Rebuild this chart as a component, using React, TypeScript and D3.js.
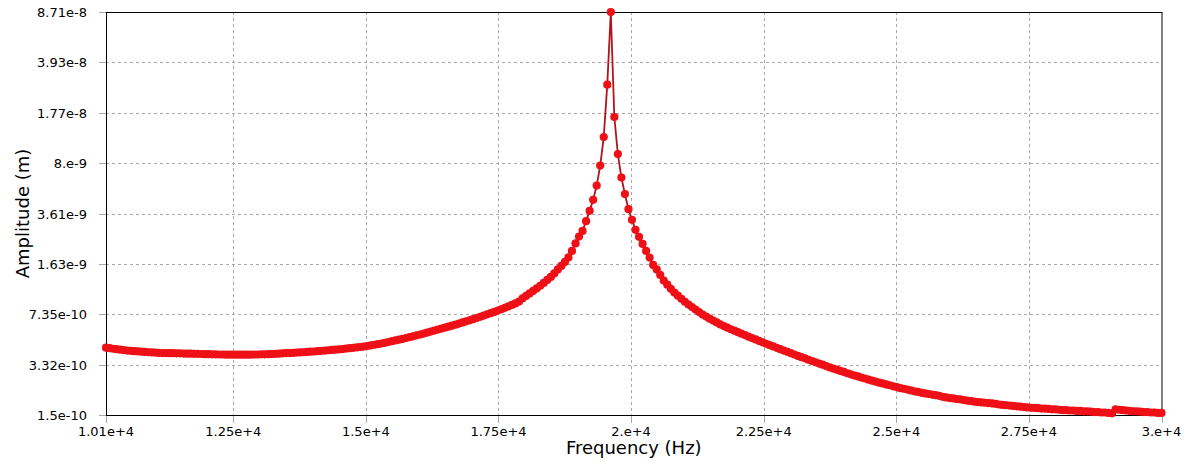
import React from "react";
import * as d3 from "d3";

// Frequency grid (Hz): 300 evenly spaced samples
const freqStart = 10100;
const freqEnd = 30000;
const amplitudeUnit = 1e-10; // values below are in units of 1e-10 m

const amplitudeE10: number[] = [
  4.34, 4.31, 4.27, 4.24, 4.21, 4.18, 4.15, 4.13, 4.11, 4.10,
  4.08, 4.06, 4.04, 4.03, 4.02, 4.00, 3.99, 3.99, 3.98, 3.98,
  3.97, 3.97, 3.96, 3.95, 3.95, 3.94, 3.94, 3.93, 3.92, 3.92,
  3.91, 3.91, 3.90, 3.90, 3.89, 3.89, 3.89, 3.89, 3.89, 3.89,
  3.89, 3.89, 3.90, 3.90, 3.91, 3.91, 3.92, 3.93, 3.94, 3.95,
  3.97, 3.98, 3.99, 4.00, 4.02, 4.03, 4.04, 4.06, 4.08, 4.09,
  4.11, 4.13, 4.15, 4.17, 4.19, 4.21, 4.23, 4.25, 4.28, 4.31,
  4.33, 4.36, 4.39, 4.42, 4.46, 4.50, 4.55, 4.59, 4.64, 4.69,
  4.75, 4.81, 4.87, 4.93, 4.99, 5.06, 5.13, 5.20, 5.28, 5.35,
  5.43, 5.51, 5.60, 5.69, 5.78, 5.87, 5.96, 6.05, 6.15, 6.25,
  6.36, 6.47, 6.58, 6.69, 6.81, 6.94, 7.07, 7.21, 7.35, 7.49,
  7.64, 7.80, 7.97, 8.15, 8.33, 8.53, 8.74, 9.00, 9.45, 9.83,
  10.23, 10.64, 11.07, 11.55, 12.08, 12.66, 13.27, 14.02, 14.95, 15.80,
  16.83, 18.07, 20.03, 22.55, 25.10, 27.47, 32.03, 37.69, 44.85, 56.2,
  77.1, 120.9, 276.4, 871, 165.9, 92.4, 63.8, 49.1, 38.7, 32.69,
  27.91, 24.99, 22.37, 20.03, 18.02, 16.05, 14.95, 13.70, 12.54, 11.74,
  11.00, 10.37, 9.88, 9.40, 8.96, 8.58, 8.25, 7.93, 7.62, 7.32,
  7.10, 6.87, 6.66, 6.47, 6.27, 6.11, 5.96, 5.81, 5.68, 5.55,
  5.42, 5.30, 5.17, 5.06, 4.95, 4.83, 4.73, 4.62, 4.52, 4.43,
  4.33, 4.24, 4.15, 4.07, 3.98, 3.90, 3.81, 3.74, 3.67, 3.59,
  3.52, 3.45, 3.38, 3.32, 3.25, 3.18, 3.12, 3.07, 3.01, 2.96,
  2.90, 2.85, 2.80, 2.76, 2.71, 2.67, 2.62, 2.58, 2.54, 2.50,
  2.47, 2.43, 2.40, 2.36, 2.33, 2.29, 2.27, 2.24, 2.21, 2.18,
  2.16, 2.13, 2.11, 2.09, 2.07, 2.05, 2.03, 2.00, 1.98, 1.96,
  1.95, 1.93, 1.92, 1.90, 1.88, 1.87, 1.85, 1.84, 1.83, 1.82,
  1.81, 1.80, 1.79, 1.77, 1.76, 1.75, 1.74, 1.73, 1.72, 1.71,
  1.70, 1.69, 1.68, 1.68, 1.67, 1.66, 1.66, 1.65, 1.64, 1.64,
  1.63, 1.62, 1.62, 1.61, 1.61, 1.60, 1.60, 1.59, 1.59, 1.58,
  1.57, 1.57, 1.56, 1.56, 1.55, 1.54, 1.64, 1.63, 1.62, 1.61,
  1.60, 1.59, 1.59, 1.58, 1.57, 1.57, 1.56, 1.56, 1.55, 1.55,
];

const xTickLabels = ["1.01e+4", "1.25e+4", "1.5e+4", "1.75e+4", "2.e+4", "2.25e+4", "2.5e+4", "2.75e+4", "3.e+4"];
const yTickLabels = ["1.5e-10", "3.32e-10", "7.35e-10", "1.63e-9", "3.61e-9", "8.e-9", "1.77e-8", "3.93e-8", "8.71e-8"];
const xTitle = "Frequency (Hz)";
const yTitle = "Amplitude (m)";

const W = 1187;
const H = 471;
const M = { left: 106, right: 1161.5, top: 12, bottom: 415 };
const FONT = "'DejaVu Sans', sans-serif";

export default function App() {
  const n = amplitudeE10.length;
  const step = (freqEnd - freqStart) / (n - 1);
  const data = amplitudeE10.map((a, i) => ({ f: freqStart + i * step, a: a * amplitudeUnit }));

  const x = d3.scaleLinear().domain([freqStart, freqEnd]).range([M.left, M.right]);
  const y = d3
    .scaleLog()
    .domain([parseFloat(yTickLabels[0]), parseFloat(yTickLabels[yTickLabels.length - 1])])
    .range([M.bottom, M.top]);

  const line = d3
    .line<{ f: number; a: number }>()
    .x((d) => x(d.f))
    .y((d) => y(d.a));

  const xTicks = xTickLabels.map((l) => ({ v: parseFloat(l), l }));
  const yTicks = yTickLabels.map((l) => ({ v: parseFloat(l), l }));

  return (
    <svg
      width={W}
      height={H}
      style={{ position: "absolute", left: 0, top: 0, background: "#fff" }}
      fontFamily={FONT}
    >
      <rect x={0} y={0} width={W} height={H} fill="#fff" />
      {/* grid */}
      {xTicks.slice(1, -1).map((t) => (
        <line
          key={"gx" + t.l}
          x1={Math.round(x(t.v)) + 0.5}
          x2={Math.round(x(t.v)) + 0.5}
          y1={M.top}
          y2={M.bottom}
          stroke="#a8a8a8"
          strokeDasharray="3,3"
          strokeWidth={1}
        />
      ))}
      {yTicks.slice(1, -1).map((t) => (
        <line
          key={"gy" + t.l}
          x1={M.left}
          x2={M.right}
          y1={Math.round(y(t.v)) + 0.5}
          y2={Math.round(y(t.v)) + 0.5}
          stroke="#a8a8a8"
          strokeDasharray="3,3"
          strokeWidth={1}
        />
      ))}
      {/* ticks */}
      {xTicks.map((t) => (
        <g key={"tx" + t.l}>
          <line
            x1={Math.round(x(t.v)) + 0.5}
            x2={Math.round(x(t.v)) + 0.5}
            y1={M.bottom}
            y2={M.bottom + 8}
            stroke="#a8a8a8"
          />
          <text x={x(t.v)} y={436} fontSize={13} textAnchor="middle" fill="#000">
            {t.l}
          </text>
        </g>
      ))}
      {yTicks.map((t) => (
        <g key={"ty" + t.l}>
          <line
            x1={M.left - 7}
            x2={M.left}
            y1={Math.round(y(t.v)) + 0.5}
            y2={Math.round(y(t.v)) + 0.5}
            stroke="#a8a8a8"
          />
          <text x={87} y={y(t.v) + 5} fontSize={13} textAnchor="end" fill="#000">
            {t.l}
          </text>
        </g>
      ))}
      {/* frame */}
      <rect
        x={M.left + 0.5}
        y={M.top + 0.5}
        width={M.right - M.left}
        height={M.bottom - M.top}
        fill="none"
        stroke="#000"
        strokeWidth={1}
      />
      {/* series */}
      <path d={line(data) || ""} fill="none" stroke="#b0141c" strokeWidth={1.8} />
      {data.map((d, i) => (
        <circle key={i} cx={x(d.f)} cy={y(d.a)} r={4.1} fill="#ee1016" />
      ))}
      {/* titles */}
      <text x={(M.left + M.right) / 2} y={454} fontSize={18} textAnchor="middle" fill="#000">
        {xTitle}
      </text>
      <text
        transform={`translate(29, ${(M.top + M.bottom) / 2}) rotate(-90)`}
        fontSize={18}
        textAnchor="middle"
        fill="#000"
      >
        {yTitle}
      </text>
    </svg>
  );
}
